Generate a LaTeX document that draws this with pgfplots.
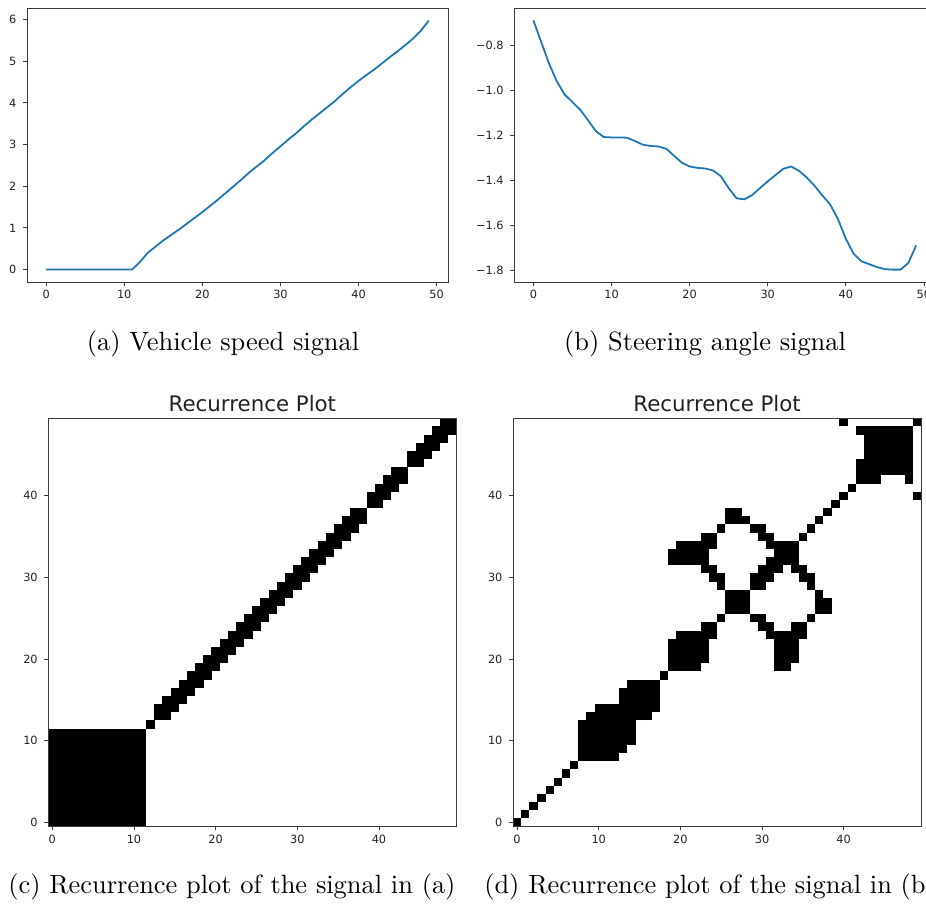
\documentclass[border=0pt]{standalone}
\usepackage{fontspec}
\usepackage{pgfplots}
\pgfplotsset{compat=1.18}

\newfontfamily\dejavu{DejaVu Sans}
\newfontfamily\capfont{lmroman10-regular.otf}

\definecolor{mplblue}{HTML}{1F77B4}
\definecolor{spine}{HTML}{3A3A3A}
\definecolor{ticktext}{HTML}{222222}

\pgfplotsset{
  mpl/.style={
    scale only axis,
    axis line style={spine, line width=0.66pt},
    tick style={spine, line width=0.66pt},
    tick align=outside,
    major tick length=2.9pt,
    tick pos=left,
    ticklabel style={font=\dejavu\fontsize{8.5}{10}\selectfont, text=ticktext},
    yticklabel style={xshift=-1.5pt},
    /pgf/number format/assume math mode=true,
  },
  rp/.style={
    mpl,
    width=306.2pt, height=306.2pt,
    xmin=-0.5, xmax=49.5, ymin=-0.5, ymax=49.5,
    xtick={0,10,...,40}, ytick={0,10,...,40},
    axis on top,
    title={Recurrence Plot},
    title style={font=\dejavu\fontsize{16}{19}\selectfont, text=ticktext,
                 at={(0.5,1)}, anchor=base, yshift=-1.2pt},
  },
  % each black run of a recurrence-matrix column is one thick vertical stroke
  cells/.style={black, line width=6.3pt, line cap=butt, mark=none, unbounded coords=jump},
}

\begin{document}
\begin{tikzpicture}

% ---------------- (a) vehicle speed ----------------
\begin{axis}[mpl, at={(20.25pt,-6pt)}, anchor=north west,
  width=315.75pt, height=205.5pt,
  xmin=-2.45, xmax=51.45, ymin=-0.299, ymax=6.279,
  xtick={0,10,...,50}, ytick={0,1,...,6}]
\addplot[mplblue, line width=1.35pt, line join=round] coordinates {
(0,0) (1,0) (2,0) (3,0) (4,0) (5,0) (6,0) (7,0) (8,0) (9,0) (10,0) (11,0)
(12,0.18) (13,0.40) (14,0.55) (15,0.70) (16,0.83) (17,0.96) (18,1.10) (19,1.24)
(20,1.38) (21,1.53) (22,1.68) (23,1.84) (24,2.00) (25,2.16) (26,2.33) (27,2.48)
(28,2.63) (29,2.80) (30,2.96) (31,3.12) (32,3.27) (33,3.44) (34,3.60) (35,3.75)
(36,3.90) (37,4.05) (38,4.22) (39,4.38) (40,4.53) (41,4.67) (42,4.80) (43,4.95)
(44,5.10) (45,5.24) (46,5.39) (47,5.55) (48,5.74) (49,5.98)};
\end{axis}

% ---------------- (b) steering angle ----------------
\begin{axis}[mpl, at={(385.7pt,-6pt)}, anchor=north west,
  width=315.75pt, height=205.5pt,
  xmin=-2.45, xmax=51.45, ymin=-1.851, ymax=-0.634,
  xtick={0,10,...,50},
  ytick={-1.8,-1.6,-1.4,-1.2,-1.0,-0.8},
  yticklabels={−1.8,−1.6,−1.4,−1.2,−1.0,−0.8}]
\addplot[mplblue, line width=1.35pt, line join=round] coordinates {
(0,-0.689) (1,-0.785) (2,-0.881) (3,-0.960) (4,-1.018) (5,-1.052) (6,-1.086)
(7,-1.133) (8,-1.181) (9,-1.207) (10,-1.209) (11,-1.209) (12,-1.210) (13,-1.225)
(14,-1.241) (15,-1.247) (16,-1.249) (17,-1.259) (18,-1.290) (19,-1.321) (20,-1.338)
(21,-1.344) (22,-1.347) (23,-1.356) (24,-1.381) (25,-1.434) (26,-1.479) (27,-1.484)
(28,-1.465) (29,-1.434) (30,-1.404) (31,-1.376) (32,-1.348) (33,-1.338) (34,-1.357)
(35,-1.387) (36,-1.424) (37,-1.467) (38,-1.507) (39,-1.572) (40,-1.659) (41,-1.726)
(42,-1.759) (43,-1.772) (44,-1.785) (45,-1.794) (46,-1.796) (47,-1.796) (48,-1.767)
(49,-1.689)};
\end{axis}

% ---------------- (c) recurrence plot of speed ----------------
\begin{axis}[rp, at={(36.2pt,-313.7pt)}, anchor=north west]
\addplot[cells] coordinates {
(0,-0.5)(0,11.5) (nan,nan) (1,-0.5)(1,11.5) (nan,nan) (2,-0.5)(2,11.5) (nan,nan)
(3,-0.5)(3,11.5) (nan,nan) (4,-0.5)(4,11.5) (nan,nan) (5,-0.5)(5,11.5) (nan,nan)
(6,-0.5)(6,11.5) (nan,nan) (7,-0.5)(7,11.5) (nan,nan) (8,-0.5)(8,11.5) (nan,nan)
(9,-0.5)(9,11.5) (nan,nan) (10,-0.5)(10,11.5) (nan,nan) (11,-0.5)(11,11.5) (nan,nan)
(12,11.5)(12,12.5) (nan,nan)
(13,12.5)(13,14.5) (nan,nan)
(14,12.5)(14,15.5) (nan,nan)
(15,13.5)(15,16.5) (nan,nan) (16,14.5)(16,17.5) (nan,nan) (17,15.5)(17,18.5) (nan,nan)
(18,16.5)(18,19.5) (nan,nan) (19,17.5)(19,20.5) (nan,nan) (20,18.5)(20,21.5) (nan,nan)
(21,19.5)(21,22.5) (nan,nan) (22,20.5)(22,23.5) (nan,nan) (23,21.5)(23,24.5) (nan,nan)
(24,22.5)(24,25.5) (nan,nan) (25,23.5)(25,26.5) (nan,nan) (26,24.5)(26,27.5) (nan,nan)
(27,25.5)(27,28.5) (nan,nan) (28,26.5)(28,29.5) (nan,nan) (29,27.5)(29,30.5) (nan,nan)
(30,28.5)(30,31.5) (nan,nan) (31,29.5)(31,32.5) (nan,nan) (32,30.5)(32,33.5) (nan,nan)
(33,31.5)(33,34.5) (nan,nan) (34,32.5)(34,35.5) (nan,nan) (35,33.5)(35,36.5) (nan,nan)
(36,34.5)(36,37.5) (nan,nan) (37,35.5)(37,38.5) (nan,nan)
(38,36.5)(38,38.5) (nan,nan)
(39,38.5)(39,40.5) (nan,nan)
(40,38.5)(40,41.5) (nan,nan) (41,39.5)(41,42.5) (nan,nan) (42,40.5)(42,43.5) (nan,nan)
(43,41.5)(43,43.5) (nan,nan)
(44,43.5)(44,45.5) (nan,nan)
(45,43.5)(45,46.5) (nan,nan) (46,44.5)(46,47.5) (nan,nan) (47,45.5)(47,48.5) (nan,nan)
(48,46.5)(48,49.5) (nan,nan)
(49,47.5)(49,49.5)};
\end{axis}

% ---------------- (d) recurrence plot of steering angle ----------------
\begin{axis}[rp, at={(384.75pt,-313.7pt)}, anchor=north west]
\addplot[cells] coordinates {
(0,-0.5)(0,0.5) (nan,nan) (1,0.5)(1,1.5) (nan,nan) (2,1.5)(2,2.5) (nan,nan)
(3,2.5)(3,3.5) (nan,nan) (4,3.5)(4,4.5) (nan,nan) (5,4.5)(5,5.5) (nan,nan)
(6,5.5)(6,6.5) (nan,nan) (7,6.5)(7,7.5) (nan,nan)
(8,7.5)(8,12.5) (nan,nan)
(9,7.5)(9,13.5) (nan,nan)
(10,7.5)(10,14.5) (nan,nan) (11,7.5)(11,14.5) (nan,nan) (12,7.5)(12,14.5) (nan,nan)
(13,8.5)(13,16.5) (nan,nan)
(14,9.5)(14,17.5) (nan,nan)
(15,12.5)(15,17.5) (nan,nan) (16,12.5)(16,17.5) (nan,nan)
(17,13.5)(17,17.5) (nan,nan)
(18,17.5)(18,18.5) (nan,nan)
(19,18.5)(19,22.5) (nan,nan) (19,31.5)(19,33.5) (nan,nan)
(20,18.5)(20,23.5) (nan,nan) (20,31.5)(20,34.5) (nan,nan)
(21,18.5)(21,23.5) (nan,nan) (21,31.5)(21,34.5) (nan,nan)
(22,18.5)(22,23.5) (nan,nan) (22,31.5)(22,34.5) (nan,nan)
(23,19.5)(23,24.5) (nan,nan) (23,30.5)(23,35.5) (nan,nan)
(24,22.5)(24,24.5) (nan,nan) (24,29.5)(24,31.5) (nan,nan) (24,33.5)(24,35.5) (nan,nan)
(25,24.5)(25,25.5) (nan,nan) (25,28.5)(25,30.5) (nan,nan) (25,35.5)(25,36.5) (nan,nan)
(26,25.5)(26,28.5) (nan,nan) (26,36.5)(26,38.5) (nan,nan)
(27,25.5)(27,28.5) (nan,nan) (27,36.5)(27,38.5) (nan,nan)
(28,25.5)(28,28.5) (nan,nan) (28,36.5)(28,37.5) (nan,nan)
(29,24.5)(29,25.5) (nan,nan) (29,28.5)(29,30.5) (nan,nan) (29,35.5)(29,36.5) (nan,nan)
(30,23.5)(30,25.5) (nan,nan) (30,28.5)(30,31.5) (nan,nan) (30,34.5)(30,36.5) (nan,nan)
(31,22.5)(31,24.5) (nan,nan) (31,29.5)(31,32.5) (nan,nan) (31,33.5)(31,35.5) (nan,nan)
(32,18.5)(32,23.5) (nan,nan) (32,30.5)(32,34.5) (nan,nan)
(33,18.5)(33,23.5) (nan,nan) (33,31.5)(33,34.5) (nan,nan)
(34,19.5)(34,24.5) (nan,nan) (34,30.5)(34,34.5) (nan,nan)
(35,22.5)(35,24.5) (nan,nan) (35,29.5)(35,31.5) (nan,nan) (35,34.5)(35,35.5) (nan,nan)
(36,24.5)(36,25.5) (nan,nan) (36,28.5)(36,30.5) (nan,nan) (36,35.5)(36,36.5) (nan,nan)
(37,25.5)(37,28.5) (nan,nan) (37,36.5)(37,37.5) (nan,nan)
(38,25.5)(38,27.5) (nan,nan) (38,37.5)(38,38.5) (nan,nan)
(39,38.5)(39,39.5) (nan,nan)
(40,39.5)(40,40.5) (nan,nan) (40,48.5)(40,49.5) (nan,nan)
(41,40.5)(41,41.5) (nan,nan)
(42,41.5)(42,44.5) (nan,nan) (42,47.5)(42,48.5) (nan,nan)
(43,41.5)(43,48.5) (nan,nan) (44,41.5)(44,48.5) (nan,nan)
(45,42.5)(45,48.5) (nan,nan) (46,42.5)(46,48.5) (nan,nan) (47,42.5)(47,48.5) (nan,nan)
(48,41.5)(48,48.5) (nan,nan)
(49,39.5)(49,40.5) (nan,nan) (49,48.5)(49,49.5)};
\end{axis}

% ---------------- sub-captions ----------------
\begin{scope}[every node/.style={font=\capfont\fontsize{19.8}{24}\selectfont, inner sep=0pt}]
\node[anchor=base] at (167.25pt,-262.5pt) {(a) Vehicle speed signal};
\node[anchor=base] at (528.75pt,-262.5pt) {(b) Steering angle signal};
\node[anchor=base west] at (6pt,-669.75pt) {(c) Recurrence plot of the signal in (a)};
\node[anchor=base west] at (363pt,-669.75pt) {(d) Recurrence plot of the signal in (b)};
\end{scope}

\pgfresetboundingbox
\path[use as bounding box] (0pt,0pt) rectangle (694.5pt,-680.25pt);
\end{tikzpicture}
\end{document}
